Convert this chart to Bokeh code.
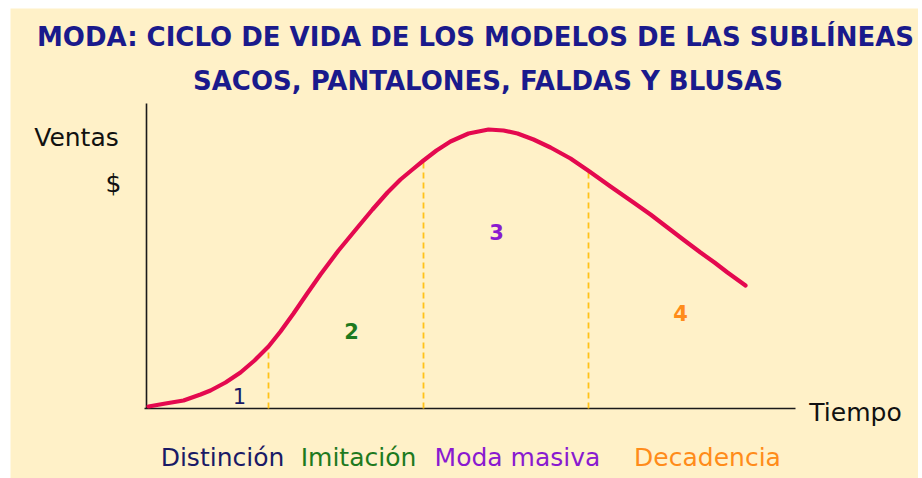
from bokeh.plotting import figure
from bokeh.models import Range1d, ColumnDataSource
from bokeh.core.properties import value
from bokeh.embed import file_html
from bokeh.resources import INLINE

# Curve: time (x) and sales (y)
tiempo = [2, 19, 37, 54, 64, 79, 94, 108, 122, 134, 147, 160, 174, 192, 211,
          226, 241, 254, 266, 277, 290, 304, 322, 342, 357, 371, 387, 404,
          424, 443, 464, 487, 504, 521, 538, 554, 568, 581, 599]
ventas = [2, 5, 8, 14, 18, 26, 36, 48, 62, 77, 95, 114, 134, 158, 181,
          199, 216, 229, 239, 248, 258, 267, 275, 279, 278, 275, 269, 261,
          250, 237, 222, 206, 194, 181, 168, 156, 146, 136, 123]

# Stage boundaries (dashed lines)
limites_x = [122, 277, 442]
limites_y = [62, 248, 238]

# Stage numbers
etapas = ["1", "2", "3", "4"]
etapas_x = [93, 205, 350, 534]
etapas_y = [13, 78, 177, 96]
etapas_col = ["#1a1a66", "#1e7a1e", "#8a1ad0", "#ff8c1a"]
etapas_peso = ["normal", "bold", "bold", "bold"]

# Stage names
nombres = ["Distinción", "Imitación", "Moda masiva", "Decadencia"]
nombres_x = [76, 212, 371, 561]
nombres_col = ["#1a1a66", "#1e7a1e", "#8a1ad0", "#ff8c1a"]

titulo1 = "MODA: CICLO DE VIDA DE LOS MODELOS DE LAS SUBLÍNEAS"
titulo2 = "SACOS,  PANTALONES, FALDAS Y BLUSAS"

BG = "#FFF1C8"
FONT = value("DejaVu Sans")

p = figure(width=918, height=478, output_backend="svg", toolbar_location=None,
           x_range=Range1d(-136, 772), y_range=Range1d(-70, 400),
           min_border=0, min_border_left=10, min_border_right=0,
           min_border_top=8, min_border_bottom=0)
p.axis.visible = False
p.grid.visible = False
p.outline_line_color = None
p.background_fill_color = BG
p.border_fill_color = "white"

# axes
p.segment(x0=[0, -2], y0=[0, 0], x1=[0, 649], y1=[305, 0],
          line_color="#1a1a1a", line_width=1.6)

# dashed stage boundaries
p.segment(x0=limites_x, y0=[0] * 3, x1=limites_x, y1=limites_y,
          line_color="#FFC21A", line_width=1.8, line_dash="6 4")

# curve
p.line(tiempo, ventas, line_color="#E4094F", line_width=4.2,
       line_join="round", line_cap="round")

# titles
p.text(x=[329], y=[372], text=[titulo1], text_font=FONT, text_font_style="bold",
       text_font_size="26px", text_color="#1a1a8c", text_align="center",
       text_baseline="middle")
p.text(x=[346], y=[328], text=[titulo2], text_font=FONT, text_font_style="bold",
       text_font_size="26px", text_color="#1a1a8c", text_align="center",
       text_baseline="middle")

# axis labels
p.text(x=[-70, -33], y=[271, 225], text=["Ventas", "$"], text_font=FONT,
       text_font_size="25px", text_color="#111111", text_align="center",
       text_baseline="middle")
p.text(x=[709], y=[-4], text=["Tiempo"], text_font=FONT,
       text_font_size="25px", text_color="#111111", text_align="center",
       text_baseline="middle")

# stage numbers
src = ColumnDataSource(dict(x=etapas_x, y=etapas_y, t=etapas, c=etapas_col,
                            w=etapas_peso))
p.text(x="x", y="y", text="t", text_color="c", text_font_style="w", source=src,
       text_font=FONT, text_font_size="21px", text_align="center",
       text_baseline="middle")

# stage names
p.text(x=nombres_x, y=[-49] * 4, text=nombres, text_color=nombres_col,
       text_font=FONT, text_font_size="25px", text_align="center",
       text_baseline="middle")

open("out.html", "w").write(file_html(p, INLINE))
